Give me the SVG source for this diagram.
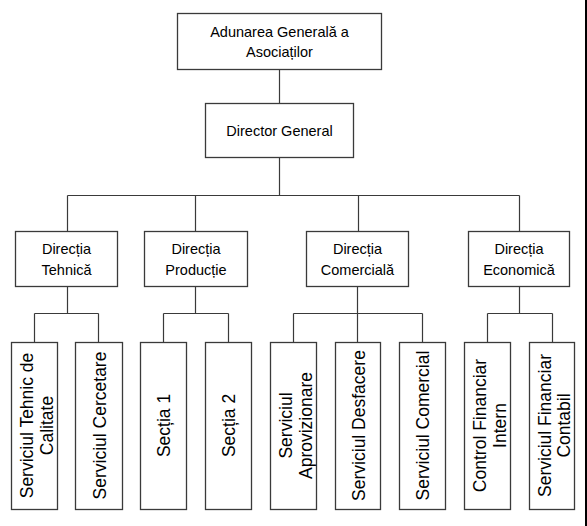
<svg xmlns="http://www.w3.org/2000/svg" width="587" height="526" viewBox="0 0 587 526">
<style>
.box{fill:#fff;stroke:#3a3a3a;stroke-width:1.3}
.t{font-family:"Liberation Sans",Arial,sans-serif;font-size:14.5px;fill:#000;text-anchor:middle}
.v{font-family:"Liberation Sans",Arial,sans-serif;font-size:17.5px;fill:#000;text-anchor:middle}
.c{fill:none;stroke:#3a3a3a;stroke-width:1.2}
</style>
<rect x="0" y="0" width="587" height="526" fill="#fff"/>
<rect x="585" y="0" width="2" height="526" fill="#000"/>
<g id="connectors">
<path class="c" d="M279.5 69V103 M279.5 157V195.5 M67.5 195.5H519.5 M67.5 195.5V231 M195.5 195.5V231 M358.5 195.5V231 M519.5 195.5V231"/>
<path class="c" d="M67.5 286V313.5 M34.5 313.5H98.5 M34.5 313.5V342 M98.5 313.5V342"/>
<path class="c" d="M195.5 286V313.5 M163.5 313.5H228.5 M163.5 313.5V342 M228.5 313.5V342"/>
<path class="c" d="M357.5 286V313.5 M293.5 313.5H422.5 M293.5 313.5V342 M357.5 313.5V342 M422.5 313.5V342"/>
<path class="c" d="M519.5 286V313.5 M487.5 313.5H552.5 M487.5 313.5V342 M552.5 313.5V342"/>
</g>
<g id="adunarea">
<rect class="box" x="177.5" y="13.5" width="204" height="56"/>
<text class="t" x="279.5" y="37">Adunarea Generală a</text>
<text class="t" x="279.5" y="57">Asociaților</text>
</g>
<g id="director">
<rect class="box" x="205.5" y="103.5" width="148" height="54"/>
<text class="t" x="279.5" y="136">Director General</text>
</g>
<g id="dir-tehnica">
<rect class="box" x="15.5" y="231.5" width="102" height="55"/>
<text class="t" x="66.5" y="254">Direcția</text>
<text class="t" x="66.5" y="275">Tehnică</text>
</g>
<g id="dir-productie">
<rect class="box" x="144.5" y="231.5" width="103" height="55"/>
<text class="t" x="196" y="254">Direcția</text>
<text class="t" x="196" y="275">Producție</text>
</g>
<g id="dir-comerciala">
<rect class="box" x="306.5" y="231.5" width="102" height="55"/>
<text class="t" x="357.5" y="254">Direcția</text>
<text class="t" x="357.5" y="275">Comercială</text>
</g>
<g id="dir-economica">
<rect class="box" x="468.5" y="231.5" width="101" height="55"/>
<text class="t" x="519" y="254">Direcția</text>
<text class="t" x="519" y="275">Economică</text>
</g>
<g id="s-tehnic-calitate">
<rect class="box" x="11.5" y="342.5" width="46" height="167"/>
<g transform="translate(34.5 425.5) rotate(-90)"><text class="v" x="0" y="-1.5">Serviciul Tehnic de</text><text class="v" x="0" y="18">Calitate</text></g>
</g>
<g id="s-cercetare">
<rect class="box" x="75.5" y="342.5" width="47" height="167"/>
<g transform="translate(99 425.5) rotate(-90)"><text class="v" x="0" y="6.5">Serviciul Cercetare</text></g>
</g>
<g id="sectia1">
<rect class="box" x="140.5" y="342.5" width="46" height="167"/>
<g transform="translate(163.5 425.5) rotate(-90)"><text class="v" x="0" y="6.5">Secția 1</text></g>
</g>
<g id="sectia2">
<rect class="box" x="205.5" y="342.5" width="46" height="167"/>
<g transform="translate(228.5 425.5) rotate(-90)"><text class="v" x="0" y="6.5">Secția 2</text></g>
</g>
<g id="s-aprovizionare">
<rect class="box" x="270.5" y="342.5" width="46" height="167"/>
<g transform="translate(293.5 425.5) rotate(-90)"><text class="v" x="0" y="-1.5">Serviciul</text><text class="v" x="0" y="18">Aprovizionare</text></g>
</g>
<g id="s-desfacere">
<rect class="box" x="335.5" y="342.5" width="45" height="167"/>
<g transform="translate(358 425.5) rotate(-90)"><text class="v" x="0" y="6.5">Serviciul Desfacere</text></g>
</g>
<g id="s-comercial">
<rect class="box" x="399.5" y="342.5" width="46" height="167"/>
<g transform="translate(422.5 425.5) rotate(-90)"><text class="v" x="0" y="6.5">Serviciul Comercial</text></g>
</g>
<g id="control-financiar">
<rect class="box" x="464.5" y="342.5" width="46" height="167"/>
<g transform="translate(487.5 425.5) rotate(-90)"><text class="v" x="0" y="-1.5">Control Financiar</text><text class="v" x="0" y="18">Intern</text></g>
</g>
<g id="s-financiar-contabil">
<rect class="box" x="529.5" y="342.5" width="45" height="167"/>
<g transform="translate(552 425.5) rotate(-90)"><text class="v" x="0" y="-1.5">Serviciul Financiar</text><text class="v" x="0" y="18">Contabil</text></g>
</g>
</svg>
